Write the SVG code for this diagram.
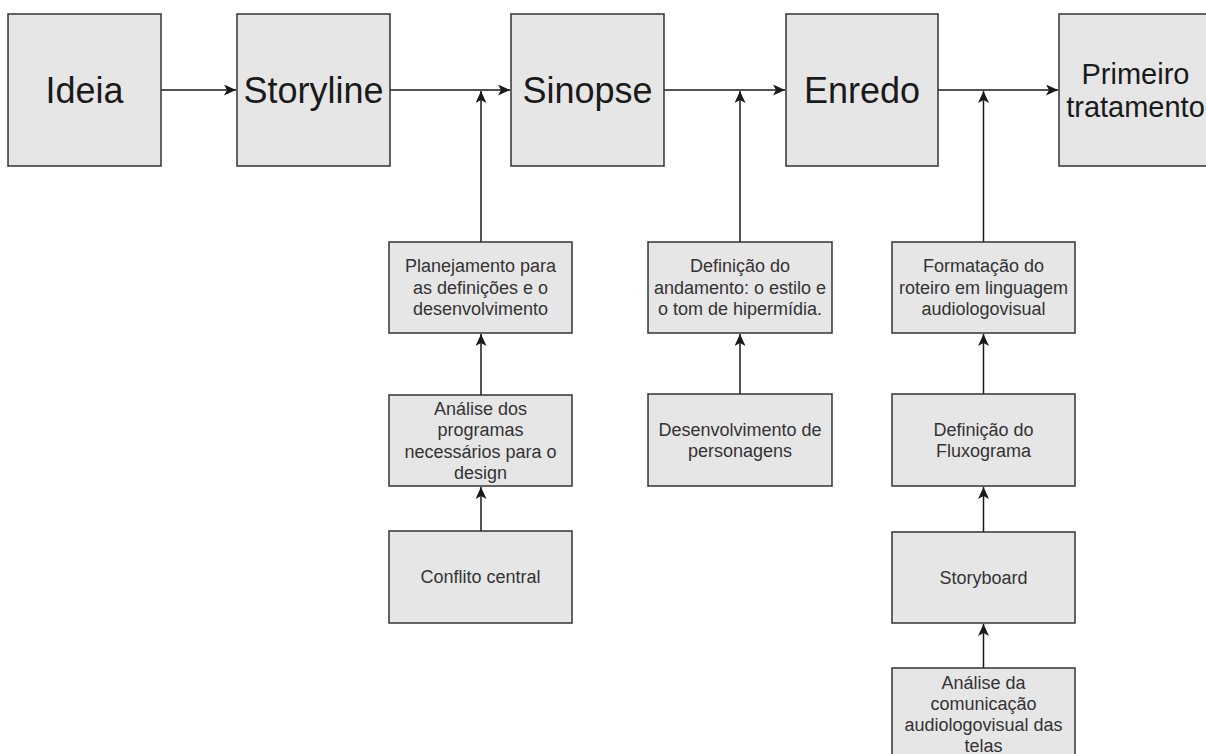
<svg xmlns="http://www.w3.org/2000/svg" width="1206" height="754" viewBox="0 0 1206 754">
  <style>
    .box { fill: #e6e6e6; stroke: #333333; stroke-width: 1.5; }
    .big { font-family: "Liberation Sans", Arial, Helvetica, sans-serif; font-size: 36px; fill: #1a1a1a; text-anchor: middle; }
    .mid { font-family: "Liberation Sans", Arial, Helvetica, sans-serif; font-size: 29px; fill: #1a1a1a; text-anchor: middle; }
    .small { font-family: "Liberation Sans", Arial, Helvetica, sans-serif; font-size: 18px; fill: #333333; text-anchor: middle; }
    .edge { fill: none; stroke: #1a1a1a; stroke-width: 1.5; }
  </style>
  <defs>
    <marker id="arrow" markerUnits="userSpaceOnUse" markerWidth="13" markerHeight="12" refX="12" refY="5.5" orient="auto">
      <path d="M0,0 L12,5.5 L0,11 L3,5.5 Z" fill="#1a1a1a"/>
    </marker>
  </defs>
  <rect width="1206" height="754" fill="#ffffff"/>

  <g id="connectors">
    <line class="edge" x1="161" y1="90" x2="236" y2="90" marker-end="url(#arrow)"/>
    <line class="edge" x1="390" y1="90" x2="510" y2="90" marker-end="url(#arrow)"/>
    <line class="edge" x1="664" y1="90" x2="785" y2="90" marker-end="url(#arrow)"/>
    <line class="edge" x1="938" y1="90" x2="1058" y2="90" marker-end="url(#arrow)"/>
    <line class="edge" x1="481" y1="242" x2="481" y2="91" marker-end="url(#arrow)"/>
    <line class="edge" x1="740" y1="242" x2="740" y2="91" marker-end="url(#arrow)"/>
    <line class="edge" x1="983.5" y1="242" x2="983.5" y2="91" marker-end="url(#arrow)"/>
    <line class="edge" x1="481" y1="395" x2="481" y2="334" marker-end="url(#arrow)"/>
    <line class="edge" x1="481" y1="531" x2="481" y2="487" marker-end="url(#arrow)"/>
    <line class="edge" x1="740" y1="394" x2="740" y2="334" marker-end="url(#arrow)"/>
    <line class="edge" x1="983.5" y1="394" x2="983.5" y2="334" marker-end="url(#arrow)"/>
    <line class="edge" x1="983.5" y1="532" x2="983.5" y2="487" marker-end="url(#arrow)"/>
    <line class="edge" x1="983.5" y1="668" x2="983.5" y2="624" marker-end="url(#arrow)"/>
  </g>

  <g id="ideia">
    <rect class="box" x="8" y="14" width="153" height="152"/>
    <text class="big" x="84.5" y="103">Ideia</text>
  </g>
  <g id="storyline">
    <rect class="box" x="237" y="14" width="153" height="152"/>
    <text class="big" x="313.5" y="103">Storyline</text>
  </g>
  <g id="sinopse">
    <rect class="box" x="511" y="14" width="153" height="152"/>
    <text class="big" x="587.5" y="103">Sinopse</text>
  </g>
  <g id="enredo">
    <rect class="box" x="786" y="14" width="152" height="152"/>
    <text class="big" x="862" y="103">Enredo</text>
  </g>
  <g id="primeiro-tratamento">
    <rect class="box" x="1059" y="14" width="153" height="152"/>
    <text class="mid" x="1135.5" y="84">Primeiro</text>
    <text class="mid" x="1135.5" y="117">tratamento</text>
  </g>

  <g id="planejamento">
    <rect class="box" x="389" y="242" width="183" height="91"/>
    <text class="small" x="480.5" y="272">Planejamento para</text>
    <text class="small" x="480.5" y="294">as definições e o</text>
    <text class="small" x="480.5" y="315">desenvolvimento</text>
  </g>
  <g id="analise-programas">
    <rect class="box" x="389" y="395" width="183" height="91"/>
    <text class="small" x="480.5" y="415">Análise dos</text>
    <text class="small" x="480.5" y="436">programas</text>
    <text class="small" x="480.5" y="458">necessários para o</text>
    <text class="small" x="480.5" y="479">design</text>
  </g>
  <g id="conflito-central">
    <rect class="box" x="389" y="531" width="183" height="92"/>
    <text class="small" x="480.5" y="583">Conflito central</text>
  </g>

  <g id="definicao-andamento">
    <rect class="box" x="648" y="242" width="184" height="91"/>
    <text class="small" x="740" y="272">Definição do</text>
    <text class="small" x="740" y="294">andamento: o estilo e</text>
    <text class="small" x="740" y="315">o tom de hipermídia.</text>
  </g>
  <g id="desenvolvimento-personagens">
    <rect class="box" x="648" y="394" width="184" height="92"/>
    <text class="small" x="740" y="436">Desenvolvimento de</text>
    <text class="small" x="740" y="457">personagens</text>
  </g>

  <g id="formatacao-roteiro">
    <rect class="box" x="892" y="242" width="183" height="91"/>
    <text class="small" x="983.5" y="272">Formatação do</text>
    <text class="small" x="983.5" y="294">roteiro em linguagem</text>
    <text class="small" x="983.5" y="315">audiologovisual</text>
  </g>
  <g id="definicao-fluxograma">
    <rect class="box" x="892" y="394" width="183" height="92"/>
    <text class="small" x="983.5" y="436">Definição do</text>
    <text class="small" x="983.5" y="457">Fluxograma</text>
  </g>
  <g id="storyboard">
    <rect class="box" x="892" y="532" width="183" height="91"/>
    <text class="small" x="983.5" y="584">Storyboard</text>
  </g>
  <g id="analise-comunicacao">
    <rect class="box" x="892" y="668" width="183" height="91"/>
    <text class="small" x="983.5" y="689">Análise da</text>
    <text class="small" x="983.5" y="710">comunicação</text>
    <text class="small" x="983.5" y="731">audiologovisual das</text>
    <text class="small" x="983.5" y="752">telas</text>
  </g>
</svg>
